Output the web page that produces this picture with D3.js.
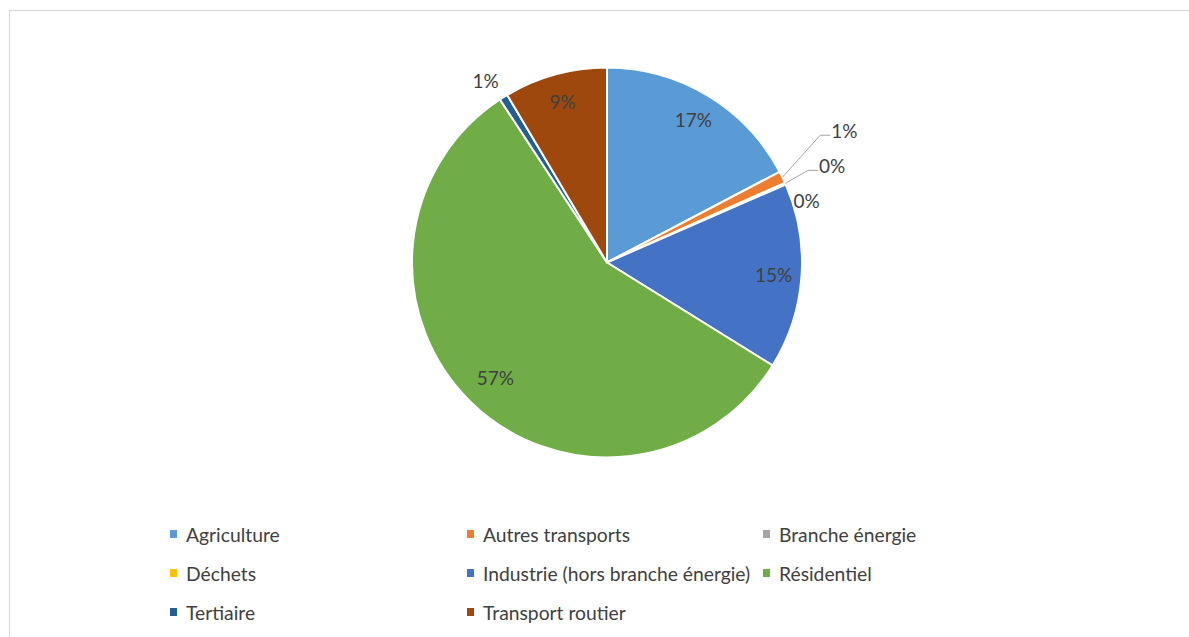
<!DOCTYPE html>
<html><head><meta charset="utf-8">
<script src="https://cdn.jsdelivr.net/npm/d3@7"></script>
<style>html,body{margin:0;padding:0;background:#fff;overflow:hidden}</style>
</head><body>
<svg id="chart" width="1189" height="637"></svg>
<script>
const categories = ["Agriculture","Autres transports","Branche énergie","Déchets","Industrie (hors branche énergie)","Résidentiel","Tertiaire","Transport routier"];
const values = [17.3, 1.0, 0.1, 0.05, 15.4, 56.9, 0.7, 8.55];
const colors = ["#5B9BD5","#ED7D31","#A5A5A5","#FFC000","#4472C4","#70AD47","#255E91","#9E480E"];
const labelTexts = ["17%","1%","0%","0%","15%","57%","1%","9%"];

// layout config for outside labels (offset of label center from the slice's outer point)
const outsideLabels = {
  1: {dx: 62, dy: -47, leader: true},
  2: {dx: 47, dy: -18, leader: true},
  3: {dx: 21, dy: 16, leader: false},
  6: {dx: -18, dy: -17, leader: false}
};
const insideRadius = {5: 160};

const svg = d3.select("#chart");
const font = "Lato, 'Open Sans', sans-serif";
svg.append("rect").attr("x",9.5).attr("y",10.5).attr("width",1300).attr("height",800)
  .attr("fill","#fff").attr("stroke","#D9D9D9").attr("stroke-width",1.2);

const cx = 607, cy = 262.5, R = 195;
const g = svg.append("g").attr("transform",`translate(${cx},${cy})`);
const pie = d3.pie().sort(null).value(d=>d).startAngle(0).endAngle(2*Math.PI);
const arcs = pie(values);
const arc = d3.arc().innerRadius(0).outerRadius(R);

g.selectAll("path.slice").data(arcs).enter().append("path")
  .attr("class","slice").attr("d",arc)
  .attr("fill",(d,i)=>colors[i]).attr("stroke","#fff").attr("stroke-width",2).attr("stroke-linejoin","round");

arcs.forEach((d,i)=>{
  const mid = (d.startAngle+d.endAngle)/2;
  const ox = R*Math.sin(mid), oy = -R*Math.cos(mid);
  const o = outsideLabels[i];
  let lx, ly;
  if (o) {
    lx = ox + o.dx; ly = oy + o.dy;
    if (o.leader) {
      const t = g.append("text").text(labelTexts[i]).attr("font-family",font).attr("font-size",19).attr("x",lx).attr("y",ly).attr("text-anchor","middle").attr("dominant-baseline","central").attr("fill","#404040");
      const w = t.node().getBBox().width;
      const left = lx - w/2 - 1;
      g.append("polyline").attr("points",[[ox,oy],[left-10,ly+5],[left,ly+5]].map(p=>p.join(",")).join(" "))
        .attr("fill","none").attr("stroke","#A6A6A6").attr("stroke-width",1);
      return;
    }
  } else {
    const r = insideRadius[i] || 167;
    [lx, ly] = d3.arc().innerRadius(r).outerRadius(r).centroid(d);
  }
  g.append("text").text(labelTexts[i]).attr("font-family",font).attr("font-size",19)
    .attr("x",lx).attr("y",ly).attr("text-anchor","middle").attr("dominant-baseline","central").attr("fill","#404040");
});

// legend
const colX = [170, 467, 763];
const rowY = [534, 573, 612];
categories.forEach((c,i)=>{
  const col = i%3, row = Math.floor(i/3);
  const lg = svg.append("g").attr("transform",`translate(${colX[col]},${rowY[row]})`);
  lg.append("rect").attr("x",0).attr("y",-4).attr("width",7).attr("height",8).attr("fill",colors[i]);
  lg.append("text").attr("x",16).attr("y",0).attr("dominant-baseline","central")
    .attr("font-family",font).attr("font-size",19.3).attr("fill","#404040").text(c);
});
</script>
</body></html>
